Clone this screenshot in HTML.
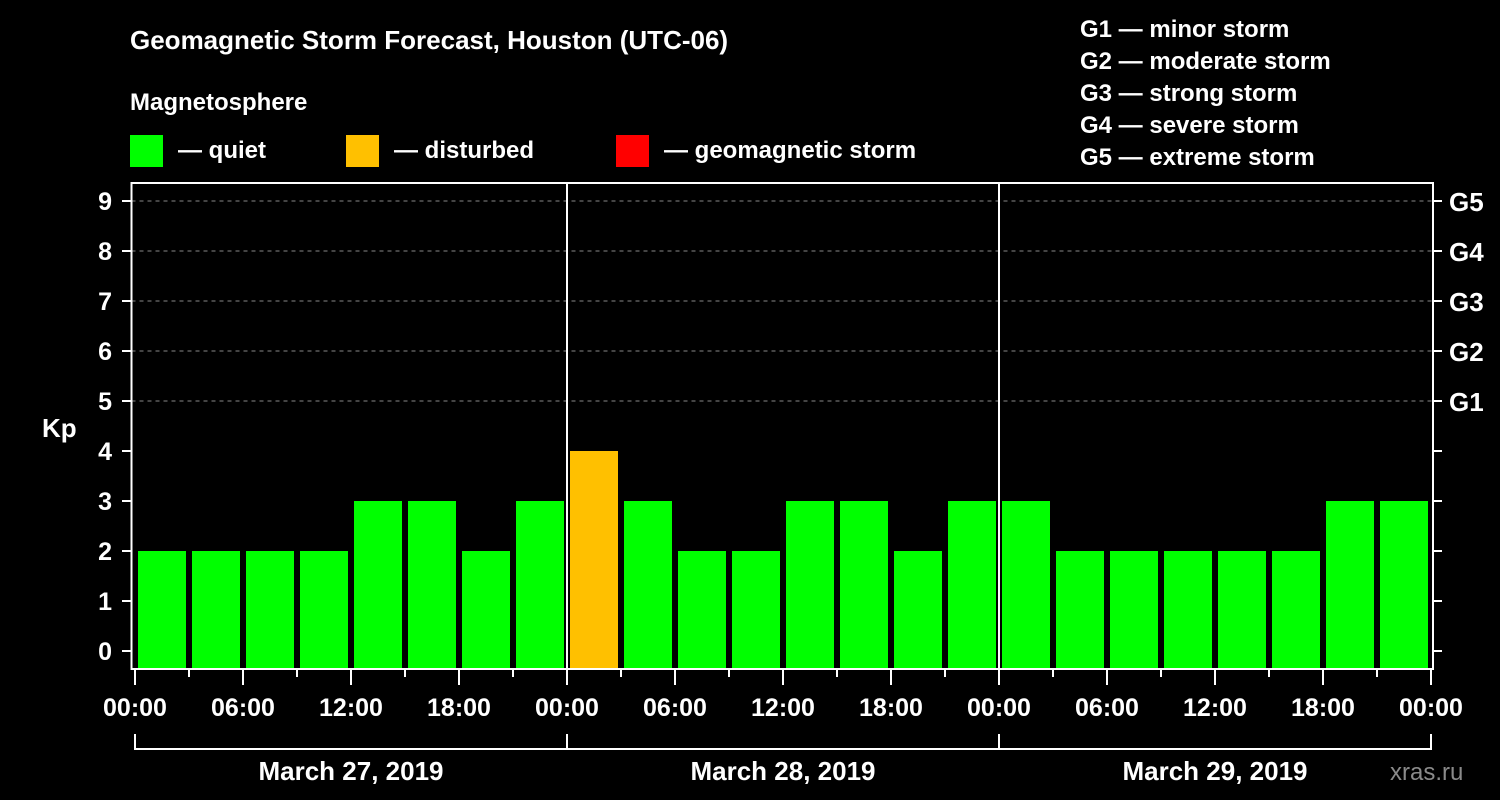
<!DOCTYPE html>
<html><head><meta charset="utf-8"><style>
body{margin:0;background:#000;}
svg{display:block;font-family:"Liberation Sans",sans-serif;font-weight:bold;fill:#fff;}
</style></head><body>
<svg id="c" width="1500" height="800" viewBox="0 0 1500 800">
<rect width="1500" height="800" fill="#000"/>
<text x="130" y="49" font-size="26">Geomagnetic Storm Forecast, Houston (UTC-06)</text>
<text x="130" y="110" font-size="24">Magnetosphere</text>
<g><rect x="130" y="135" width="33" height="32" fill="#00ff00"/><text x="178" y="158" font-size="24">— quiet</text></g>
<g><rect x="346" y="135" width="33" height="32" fill="#ffc000"/><text x="394" y="158" font-size="24">— disturbed</text></g>
<g><rect x="616" y="135" width="33" height="32" fill="#ff0000"/><text x="664" y="158" font-size="24">— geomagnetic storm</text></g>
<g font-size="24">
<text x="1080" y="37">G1 — minor storm</text>
<text x="1080" y="69">G2 — moderate storm</text>
<text x="1080" y="101">G3 — strong storm</text>
<text x="1080" y="133">G4 — severe storm</text>
<text x="1080" y="165">G5 — extreme storm</text>
</g>
<text x="42" y="437" font-size="26">Kp</text>
<text x="1390" y="780" font-size="24" fill="#888" style="fill:#8a8a8a" font-weight="normal">xras.ru</text>
<g id="plot"></g>
</svg>
<script>
const values=[2,2,2,2,3,3,2,3,4,3,2,2,3,3,2,3,3,2,2,2,2,2,3,3];
const hourLabels=["00:00","06:00","12:00","18:00","00:00","06:00","12:00","18:00","00:00","06:00","12:00","18:00","00:00"];
const dayLabels=["March 27, 2019","March 28, 2019","March 29, 2019"];
const kpTicks=[0,1,2,3,4,5,6,7,8,9];
const gLabels=["G1","G2","G3","G4","G5"];
const NS="http://www.w3.org/2000/svg";
const plot=document.getElementById('plot');
const L=131.5,R=1433,T=183,B=669,X0=135,SW=54;
const y=v=>651-v*50;
const x=i=>X0+i*SW;
function mk(t,a){const e=document.createElementNS(NS,t);for(const k in a)e.setAttribute(k,a[k]);plot.appendChild(e);return e;}
kpTicks.forEach(k=>{
 if(k>=5){const g=mk('line',{x1:L,x2:R,y1:y(k),y2:y(k),stroke:'#888','stroke-dasharray':'4,4','stroke-width':1});
 
 }
 const t=mk('line',{x1:122,x2:L,y1:y(k),y2:y(k),stroke:'#fff','stroke-width':2});
 
 
 const t2=mk('line',{x1:R,x2:1442,y1:y(k),y2:y(k),stroke:'#fff','stroke-width':2});
 
 
 const l=mk('text',{x:112,y:y(k)+9,'font-size':25,'text-anchor':'end'});l.textContent=k;
 
 
});
gLabels.forEach((g,i)=>{const l=mk('text',{x:1449,y:y(i+5)+10,'font-size':26});l.textContent=g;
 
 });
values.forEach((v,i)=>{
 const c=v>=5?'#ff0000':v>=4?'#ffc000':'#00ff00';
 const b=mk('rect',{x:x(i)+3,y:y(v),width:48,height:B-y(v)-1,fill:c});
 
 
});
[8,16].forEach(i=>{const d=mk('line',{x1:x(i),x2:x(i),y1:T,y2:B,stroke:'#fff','stroke-width':2});
 
 });
const fr=mk('path',{d:`M${L} ${T}H${R}V${B}H${L}Z`,fill:'none',stroke:'#fff','stroke-width':2});


for(let i=0;i<=24;i++){const t=mk('line',{x1:x(i),x2:x(i),y1:B,y2:i%2?677:685,stroke:'#fff','stroke-width':2});
 
 }
hourLabels.forEach((h,i)=>{const l=mk('text',{x:x(i*2),y:716,'font-size':25,'text-anchor':'middle'});l.textContent=h;
 
 });
dayLabels.forEach((d,i)=>{
 const br=mk('path',{d:`M${x(i*8)} 734V749H${x(i*8+8)}V734`,fill:'none',stroke:'#fff','stroke-width':2});
 
 
 const l=mk('text',{x:x(i*8+4),y:780,'font-size':26,'text-anchor':'middle'});l.textContent=d;
 
 
});
</script>
</body></html>
